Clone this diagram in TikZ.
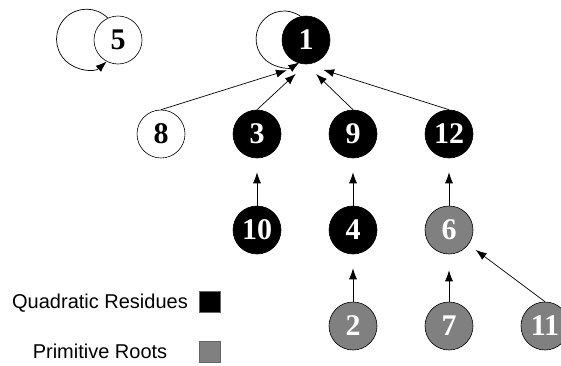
\documentclass[tikz,border=0pt]{standalone}
\usepackage{fontspec}
\setmainfont{Liberation Serif}
\setsansfont{Liberation Sans}
\usetikzlibrary{arrows.meta,positioning}

\begin{document}
\begin{tikzpicture}[x=1pt, y=-1pt, ->, >={Latex[length=11pt,width=8pt]}, line width=0.7pt, node distance=96pt]
	\tikzstyle{every node}=[font=\fontsize{30}{34}\selectfont\bfseries]
	\tikzstyle{plain}=[circle,draw=black,line width=0.6pt,fill=white,text=black,minimum size=48pt,inner sep=0pt]
	\tikzstyle{residue}=[plain,fill=black,text=white]
	\tikzstyle{root}=[plain,fill=black!50,text=white]
	\tikzstyle{legend}=[font=\sffamily\fontsize{20}{24}\selectfont]
	\tikzstyle{swatch}=[draw=black!60,line width=0.6pt,minimum size=21pt,inner sep=0pt]
	\useasboundingbox (0,0) rectangle (561,365);
	\node[plain]   (n5)  at (118,40)    {5};
	\node[residue] (n1)  at (306,40)    {1};
	\node[residue] (n3)  at (257,134)   {3};
	\node[plain]   (n8)  [left of=n3]   {8};
	\node[residue] (n9)  [right of=n3]  {9};
	\node[residue] (n12) [right of=n9]  {12};
	\node[residue] (n10) [below of=n3]  {10};
	\node[residue] (n4)  [below of=n9]  {4};
	\node[root]    (n6)  [below of=n12] {6};
	\node[root]    (n2)  [below of=n4]  {2};
	\node[root]    (n7)  [below of=n6]  {7};
	\node[root]    (n11) [right of=n7]  {11};
	% legend
	\node[legend] (qr) at (100,303) {Quadratic Residues};
	\node[swatch,fill=black] (qrbox) at (210,302) {};
	\node[legend] (pr) at (100,351) {Primitive Roots};
	\node[swatch,fill=black!50] (prbox) at (210,352) {};
	% self loops
	\draw (n5.115) arc[start angle=45, end angle=312, radius=30pt];
	\draw (n1.103) arc[start angle=54, end angle=303, radius=28pt];
	\path
	(n8.north)  edge[shorten >=20pt] (n1.south)
	(n3.north)  edge[shorten >=14pt] (n1.south)
	(n9.north)  edge[shorten >=14pt] (n1.south)
	(n12.north) edge[shorten >=18pt] (n1.south)
	(n10) edge[shorten >=14pt] (n3)
	(n4)  edge[shorten >=14pt] (n9)
	(n6)  edge[shorten >=14pt] (n12)
	(n2)  edge[shorten >=14pt] (n4)
	(n7)  edge[shorten >=16pt] (n6)
	(n11.north) edge[shorten >=9pt] (n6)
	;
\end{tikzpicture}
\end{document}
